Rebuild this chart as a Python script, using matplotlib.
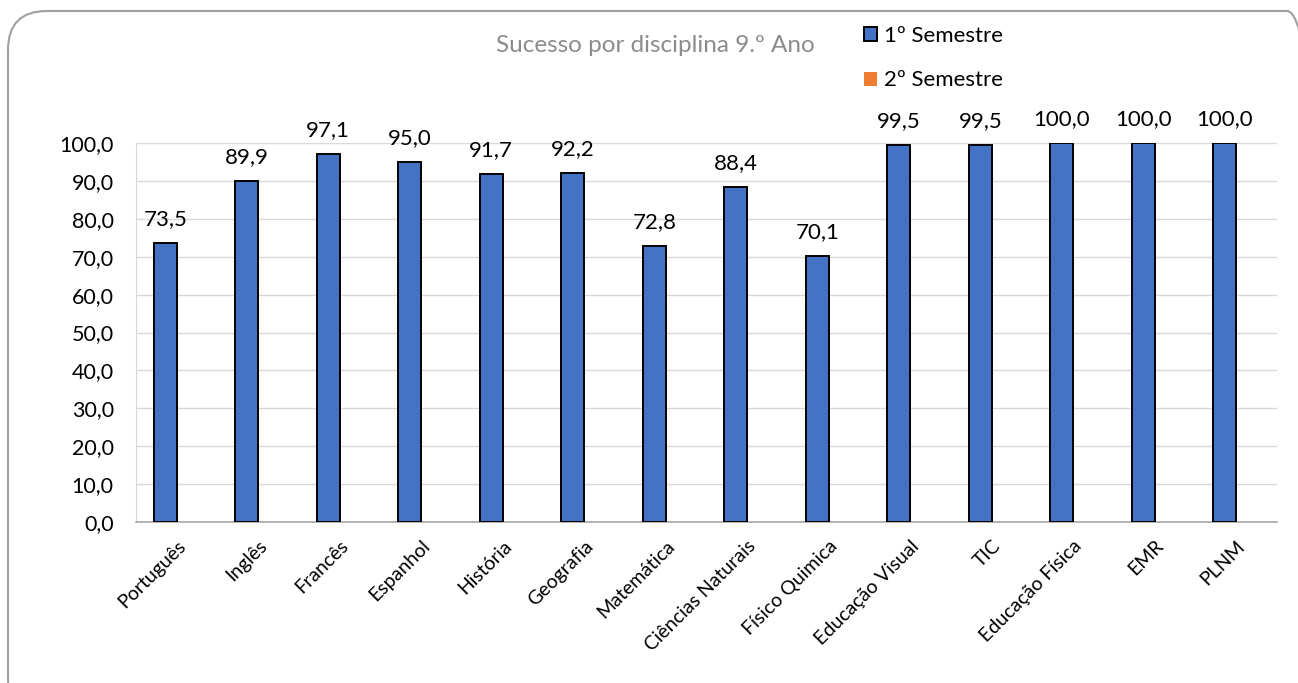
import matplotlib
matplotlib.use("Agg")
import matplotlib.pyplot as plt
import numpy as np
from matplotlib.patches import FancyBboxPatch

plt.rcParams['font.family'] = ['Lato', 'DejaVu Sans']

categories = ["Português", "Inglês", "Francês", "Espanhol", "História", "Geografia",
              "Matemática", "Ciências Naturais", "Físico Quimica", "Educação Visual",
              "TIC", "Educação Física", "EMR", "PLNM"]
sem1 = [73.5, 89.9, 97.1, 95.0, 91.7, 92.2, 72.8, 88.4, 70.1, 99.5, 99.5, 100.0, 100.0, 100.0]
sem2 = [0.0] * len(categories)
series_names = ["1º Semestre", "2º Semestre"]
title = "Sucesso por disciplina 9.º Ano"
yticks = [0, 10, 20, 30, 40, 50, 60, 70, 80, 90, 100]

W, H = 1298, 683
fig = plt.figure(figsize=(W / 100, H / 100), dpi=100)
ax = fig.add_axes([136 / W, 1 - 522 / H, (1277 - 136) / W, (522 - 143) / H])

x = np.arange(len(categories))
bw = 0.282
b1 = ax.bar(x - bw / 2, sem1, width=bw, color="#4472C4", edgecolor="black",
            linewidth=1.4, label=series_names[0], zorder=3)
b2 = ax.bar(x + bw / 2, sem2, width=bw, color="#ED7D31", edgecolor="none",
            linewidth=0, label=series_names[1], zorder=3)

ax.bar_label(b1, labels=[f"{v:.1f}".replace(".", ",") for v in sem1],
             padding=10, fontsize=16, color="black")

ax.set_xlim(-0.5, len(categories) - 0.5)
ax.set_ylim(0, 100)
ax.set_yticks(yticks)
ax.set_yticklabels([f"{v:.1f}".replace(".", ",") for v in yticks], fontsize=15.5)
ax.set_xticks(x)
ax.set_xticklabels(categories, rotation=45, ha="right", rotation_mode="anchor",
                   fontsize=14)
ax.tick_params(axis="both", length=0)
ax.tick_params(axis="y", pad=16)
ax.tick_params(axis="x", pad=11)
ax.yaxis.grid(True, color="#D9D9D9", linewidth=1.0, zorder=0)
ax.set_axisbelow(True)
for s in ["top", "right"]:
    ax.spines[s].set_visible(False)
ax.spines["left"].set_color("#D9D9D9")
ax.spines["bottom"].set_color("#A6A6A6")
ax.spines["bottom"].set_linewidth(1.2)

fig.text(655 / W, 1 - 45 / H, title, ha="center", va="center",
         fontsize=17.5, color="#8C8C8C")

leg = fig.legend(handles=[b1, b2], labels=series_names, loc="upper left",
                 bbox_to_anchor=(844 / W, 1 - 6 / H), frameon=False,
                 fontsize=16, handlelength=0.6, handleheight=0.6,
                 handletextpad=0.3, labelspacing=1.1)

border = FancyBboxPatch((8 / W, -0.05), (W + 20) / W, 1 - 11 / H + 0.05,
                        boxstyle="round,pad=0,rounding_size=0.03",
                        transform=fig.transFigure, facecolor="none",
                        edgecolor="#A0A0A0", linewidth=1.5,
                        mutation_aspect=W / H)
fig.patches.append(border)

fig.savefig("out.png", dpi=100)
